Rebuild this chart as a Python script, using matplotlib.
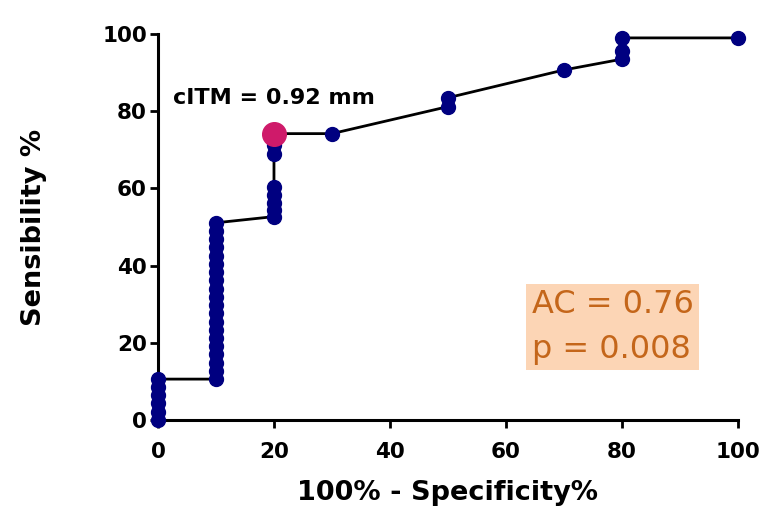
import numpy as np
import matplotlib
matplotlib.use("Agg")
import matplotlib.pyplot as plt

# ROC curve points (x = 100% - specificity, y = sensitivity)
fpr = [0, 0, 0, 0, 0, 0,
       10, 10, 10, 10, 10, 10, 10, 10, 10, 10,
       10, 10, 10, 10, 10, 10, 10, 10, 10, 10,
       20, 20, 20, 20, 20, 20, 20, 20,
       30, 50, 50, 70, 80, 80, 80, 100]
sens = [0, 2.1, 4.3, 6.4, 8.5, 10.6,
        10.6, 12.8, 14.9, 17.0, 19.1, 21.3, 23.4, 25.5, 27.7, 29.8,
        31.9, 34.0, 36.2, 38.3, 40.4, 42.6, 44.7, 46.8, 48.9, 51.1,
        52.7, 54.3, 56.1, 58.3, 60.4, 68.9, 71.2, 74.2,
        74.2, 81.2, 83.5, 90.7, 93.5, 95.5, 99, 99]

cut_x, cut_y = [20], [74.2]
cut_label = "cITM = 0.92 mm"
stats_label = "AC = 0.76\np = 0.008"

xticks = [0, 20, 40, 60, 80, 100]
yticks = [0, 20, 40, 60, 80, 100]

fig = plt.figure(figsize=(7.74, 5.27), dpi=100)
ax = fig.add_axes([0.2041, 0.2030, 0.7494, 0.7324])

ax.plot(fpr, sens, color="black", lw=2, zorder=2, clip_on=False)
ax.plot(fpr, sens, "o", color="#000080", ms=10, mec="#000080", zorder=3, clip_on=False)
ax.plot(cut_x, cut_y, "o", color="#CF1A6A", ms=17, mec="#CF1A6A", zorder=4, clip_on=False)

ax.set_xlim(0, 100)
ax.set_ylim(0, 100)
ax.set_xticks(xticks)
ax.set_yticks(yticks)

for s in ["top", "right"]:
    ax.spines[s].set_visible(False)
for s in ["left", "bottom"]:
    ax.spines[s].set_linewidth(2.2)

ax.tick_params(width=2, length=6, labelsize=15.5)
ax.tick_params(axis="x", pad=9.5)
ax.tick_params(axis="y", pad=2)
for lab in ax.get_xticklabels() + ax.get_yticklabels():
    lab.set_fontweight("bold")

ax.set_xlabel("100% - Specificity%", fontsize=19.5, fontweight="bold", labelpad=13)
ax.set_ylabel("Sensibility %", fontsize=19.5, fontweight="bold", labelpad=40)

ax.text(2.6, 81.9, cut_label, fontsize=16, fontweight="bold", va="baseline", ha="left")

ax.text(64.4, 24.1, stats_label, fontsize=23, color="#C4661A", va="center", ha="left",
        linespacing=1.55,
        bbox=dict(boxstyle="square,pad=0.16", facecolor="#FCD5B5", edgecolor="none"))

fig.savefig("out.png", dpi=100)
